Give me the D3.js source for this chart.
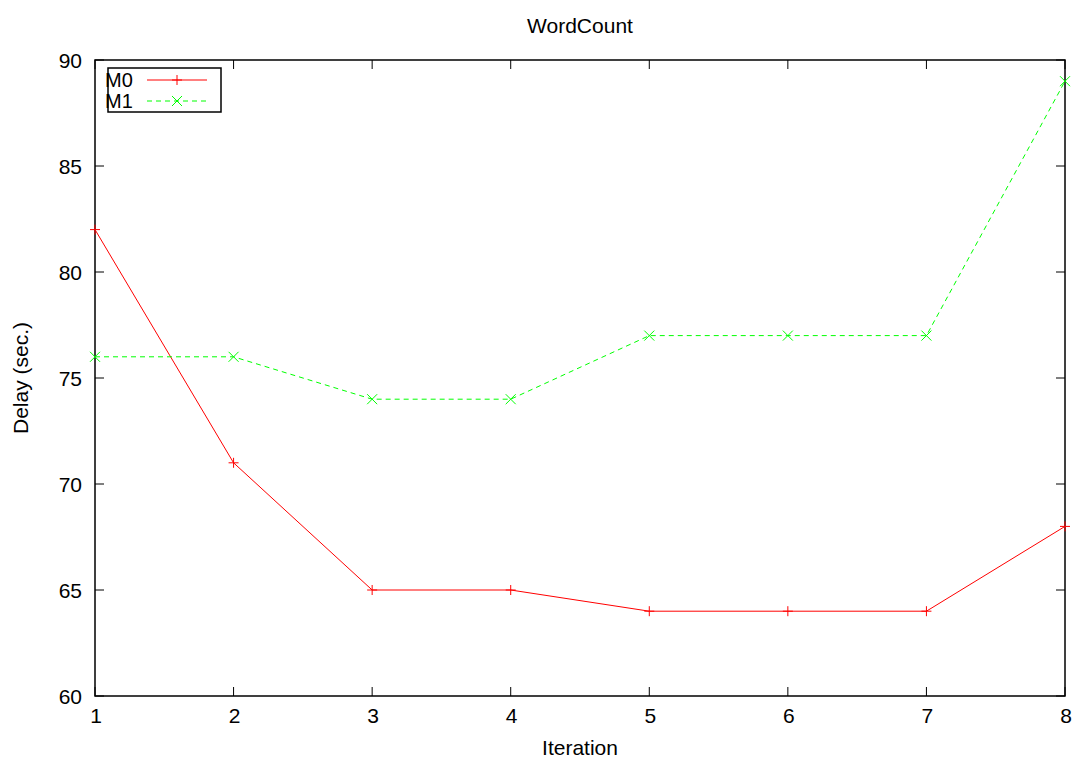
<!DOCTYPE html>
<html>
<head>
<script src="https://d3js.org/d3.v7.min.js"></script>
<style>
  body { margin: 0; background: #fff; }
  text { font-family: "Liberation Sans", Arial, sans-serif; font-size: 21px; fill: #000; }
</style>
</head>
<body>
<svg width="1078" height="763"></svg>
<script>
var iterations = [1, 2, 3, 4, 5, 6, 7, 8];
var m0 = [82, 71, 65, 65, 64, 64, 64, 68];
var m1 = [76, 76, 74, 74, 77, 77, 77, 89];
var yTicks = [60, 65, 70, 75, 80, 85, 90];

var svg = d3.select('svg');
var pl = 95, pr = 1065, pt = 60, pb = 696;

var x = d3.scaleLinear().domain([1, 8]).range([pl, pr]);
var y = d3.scaleLinear().domain([60, 90]).range([pb, pt]);
var tick = 9;

var g = svg.append('g');

// ticks (inward, mirrored)
iterations.forEach(function(v) {
  g.append('line').attr('x1', x(v)).attr('x2', x(v)).attr('y1', pb).attr('y2', pb - tick).attr('stroke', '#000');
  g.append('line').attr('x1', x(v)).attr('x2', x(v)).attr('y1', pt).attr('y2', pt + tick).attr('stroke', '#000');
  g.append('text').attr('x', x(v) + 1).attr('y', pb + 27).attr('text-anchor', 'middle').text(v);
});
yTicks.forEach(function(v) {
  g.append('line').attr('x1', pl).attr('x2', pl + tick).attr('y1', y(v)).attr('y2', y(v)).attr('stroke', '#000');
  g.append('line').attr('x1', pr).attr('x2', pr - tick).attr('y1', y(v)).attr('y2', y(v)).attr('stroke', '#000');
  g.append('text').attr('x', pl - 13).attr('y', y(v) + 8).attr('text-anchor', 'end').text(v);
});

// frame
g.append('rect').attr('x', pl).attr('y', pt).attr('width', pr - pl).attr('height', pb - pt)
  .attr('fill', 'none').attr('stroke', '#000').attr('stroke-width', 1.5);

// titles
svg.append('text').attr('x', 580).attr('y', 33).attr('text-anchor', 'middle').text('WordCount');
svg.append('text').attr('x', 580).attr('y', 755).attr('text-anchor', 'middle').text('Iteration');
svg.append('text').attr('transform', 'translate(28,378) rotate(-90)').attr('text-anchor', 'middle').text('Delay (sec.)');

function plus(sel, cx, cy, c) {
  sel.append('path').attr('d', 'M' + (cx - 5) + ',' + cy + 'H' + (cx + 5) + 'M' + cx + ',' + (cy - 5) + 'V' + (cy + 5))
    .attr('stroke', c).attr('fill', 'none');
}
function cross(sel, cx, cy, c) {
  sel.append('path').attr('d', 'M' + (cx - 5) + ',' + (cy - 5) + 'L' + (cx + 5) + ',' + (cy + 5) + 'M' + (cx - 5) + ',' + (cy + 5) + 'L' + (cx + 5) + ',' + (cy - 5))
    .attr('stroke', c).attr('fill', 'none');
}

var line = d3.line().x(function(d, i) { return x(iterations[i]); }).y(function(d) { return y(d); });

svg.append('path').datum(m0).attr('d', line).attr('fill', 'none').attr('stroke', '#ff0000');
m0.forEach(function(d, i) { plus(svg, x(iterations[i]), y(d), '#ff0000'); });

svg.append('path').datum(m1).attr('d', line).attr('fill', 'none').attr('stroke', '#00ff00').attr('stroke-dasharray', '5,4');
m1.forEach(function(d, i) { cross(svg, x(iterations[i]), y(d), '#00ff00'); });

// legend
var lg = svg.append('g');
lg.append('rect').attr('x', 108).attr('y', 68).attr('width', 113).attr('height', 44)
  .attr('fill', 'none').attr('stroke', '#000').attr('stroke-width', 1.5);
lg.append('text').attr('x', 105).attr('y', 87).style('font-size', '20px').text('M0');
lg.append('text').attr('x', 105).attr('y', 108).style('font-size', '20px').text('M1');
lg.append('line').attr('x1', 147).attr('x2', 207).attr('y1', 80).attr('y2', 80).attr('stroke', '#ff0000');
plus(lg, 177, 80, '#ff0000');
lg.append('line').attr('x1', 147).attr('x2', 207).attr('y1', 101).attr('y2', 101).attr('stroke', '#00ff00').attr('stroke-dasharray', '5,4');
cross(lg, 177, 101, '#00ff00');
</script>
</body>
</html>
